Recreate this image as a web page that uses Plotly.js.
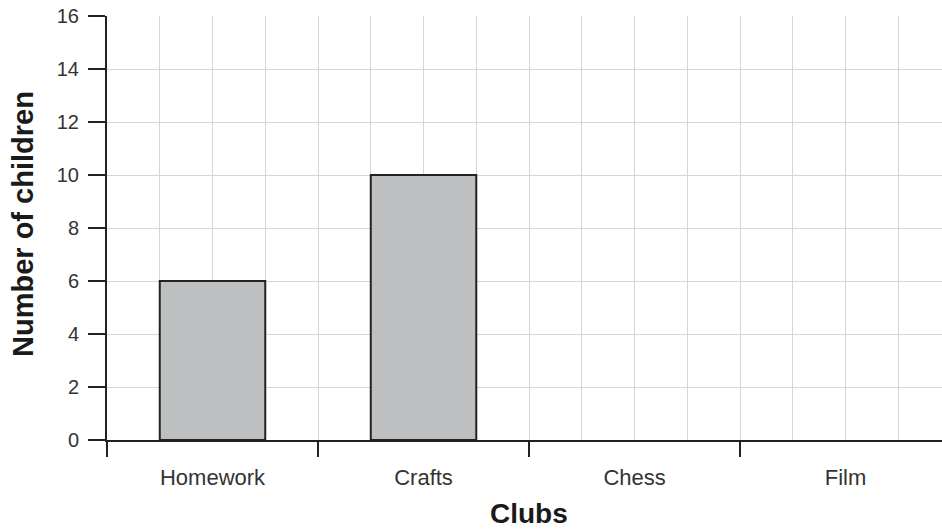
<!DOCTYPE html>
<html>
<head>
<meta charset="utf-8">
<script src="https://cdn.plot.ly/plotly-3.0.1.min.js"></script>
<style>html,body{margin:0;padding:0;background:#fff;overflow:hidden;}</style>
</head>
<body>
<div id="chart" style="width:942px;height:531px;"></div>
<script>
const clubs = ["Homework", "Crafts", "Chess", "Film"];
const children = [6, 10, null, null];
const yTicks = [0, 2, 4, 6, 8, 10, 12, 14, 16];

const idx = clubs.map((c, i) => i);
const bounds = clubs.map((c, i) => i - 0.5);
const xRange = [-0.5, 3.457];
const font = "Liberation Sans, Arial, Helvetica, sans-serif";

const data = [
  {
    type: "bar",
    x: idx,
    y: children,
    width: 0.5,
    marker: { color: "#bebfc1", line: { color: "#222222", width: 2 } },
    hoverinfo: "skip"
  },
  {
    type: "scatter",
    x: idx,
    y: children,
    xaxis: "x2",
    mode: "markers",
    marker: { opacity: 0 },
    hoverinfo: "skip",
    showlegend: false
  }
];

const layout = {
  width: 942,
  height: 531,
  margin: { l: 107, r: 0, t: 16, b: 91 },
  paper_bgcolor: "#ffffff",
  plot_bgcolor: "#ffffff",
  showlegend: false,
  xaxis: {
    type: "linear",
    range: xRange,
    tickmode: "array",
    tickvals: idx,
    ticktext: clubs,
    ticks: "",
    ticklabelstandoff: 17,
    tickfont: { family: font, size: 22, color: "#333333" },
    showgrid: true,
    gridcolor: "#d6d6d6",
    gridwidth: 1,
    minor: { tick0: -0.5, dtick: 0.25, showgrid: true, gridcolor: "#d6d6d6", gridwidth: 1, ticks: "" },
    showline: true,
    linecolor: "#222222",
    linewidth: 2,
    zeroline: false,
    fixedrange: true
  },
  xaxis2: {
    type: "linear",
    overlaying: "x",
    anchor: "y",
    side: "bottom",
    range: xRange,
    tickmode: "array",
    tickvals: bounds,
    ticks: "outside",
    ticklen: 16,
    tickwidth: 2,
    tickcolor: "#222222",
    showticklabels: false,
    showgrid: false,
    showline: false,
    zeroline: false,
    fixedrange: true
  },
  yaxis: {
    range: [0, 16],
    tickmode: "array",
    tickvals: yTicks,
    ticks: "outside",
    ticklen: 17,
    tickwidth: 2,
    tickcolor: "#222222",
    ticklabelstandoff: 5,
    tickfont: { family: font, size: 20, color: "#333333" },
    showgrid: true,
    gridcolor: "#d6d6d6",
    gridwidth: 1,
    showline: true,
    linecolor: "#222222",
    linewidth: 2,
    zeroline: false,
    fixedrange: true
  },
  annotations: [
    {
      text: "<b>Clubs</b>",
      xref: "x", x: 1.5,
      yref: "paper", y: (440 - 530) / 424,
      xanchor: "center", yanchor: "bottom",
      borderpad: 0,
      showarrow: false,
      font: { family: font, size: 28, color: "#1a1a1a" }
    },
    {
      text: "<b>Number of children</b>",
      xref: "paper", x: (23 - 107) / 835,
      yref: "paper", y: (440 - 224) / 424,
      xanchor: "center", yanchor: "middle",
      textangle: -90,
      showarrow: false,
      font: { family: font, size: 29, color: "#1a1a1a" }
    }
  ]
};

Plotly.newPlot("chart", data, layout, { displayModeBar: false, staticPlot: true });
</script>
</body>
</html>
